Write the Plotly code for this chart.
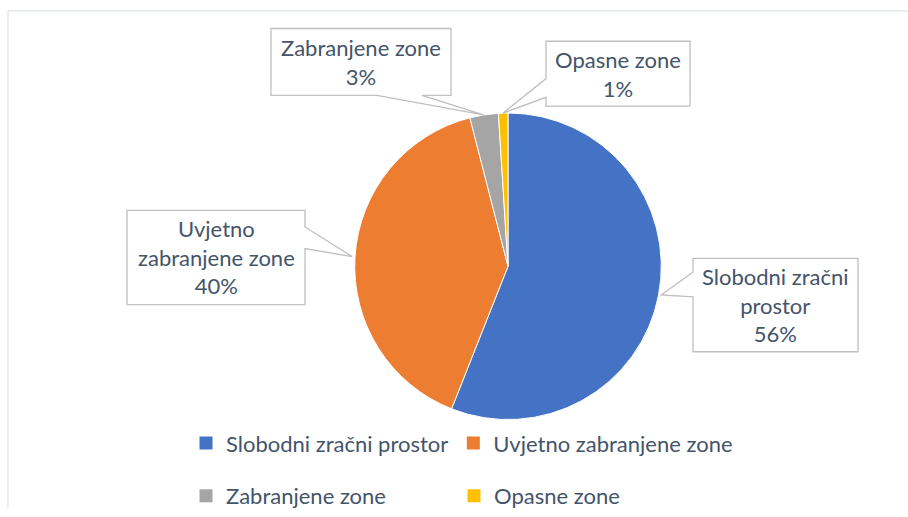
import math
import plotly.graph_objects as go

# data
labels = ["Slobodni zračni prostor", "Uvjetno zabranjene zone",
          "Zabranjene zone", "Opasne zone"]
callout_text = ["Slobodni zračni<br>prostor", "Uvjetno<br>zabranjene zone",
                "Zabranjene zone", "Opasne zone"]
values = [56, 40, 3, 1]
colors = ["#4472C4", "#ED7D31", "#A5A5A5", "#FFC000"]

W, H = 908, 517
TEXT = "#44546A"
FONT = "Lato"

# pie geometry (pixels)
CX, CY, R = 508, 271, 156


def px(x):
    return x / W


def py(y):
    return 1 - y / H


fig = go.Figure()
fig.add_trace(go.Pie(
    labels=labels, values=values, sort=False, direction="clockwise",
    rotation=0, marker=dict(colors=colors, line=dict(color="white", width=1)),
    textinfo="none", hoverinfo="label+percent", showlegend=False,
    domain=dict(x=[px(CX - R), px(CX + R)], y=[py(CY + R), py(CY - R)]),
))

# legend entries: two rows, two columns
for i, (lab, col) in enumerate(zip(labels, colors)):
    fig.add_trace(go.Scatter(
        x=[None], y=[None], mode="markers", name=lab,
        marker=dict(symbol="square", size=13, color=col),
        legend="legend" if i < 2 else "legend2",
    ))

# callout boxes: (x0, y0, x1, y1) and the two points where the pointer leaves the box
boxes = [
    ((693, 263, 858, 358), [(693, 277), (693, 302)]),
    ((127, 214, 305, 310), [(305, 231), (305, 253)]),
    ((271, 29, 451, 97), [(377, 97), (422, 97)]),
    ((546, 42, 690, 108), [(546, 80), (546, 99)]),
]

total = sum(values)
cum = 0
shapes = []
annotations = []
for i, v in enumerate(values):
    mid = (cum + v / 2) / total * 2 * math.pi
    cum += v
    tx = CX + R * math.sin(mid)
    ty = CY - R * math.cos(mid)
    (x0, y0, x1, y1), (a, b) = boxes[i]
    # outline going round the box, inserting the pointer on its edge
    corners = [(x0, y0), (x1, y0), (x1, y1), (x0, y1)]
    pts = []
    for k in range(4):
        p, q = corners[k], corners[(k + 1) % 4]
        pts.append(p)
        on_edge = [e for e in (a, b)
                   if min(p[0], q[0]) <= e[0] <= max(p[0], q[0])
                   and min(p[1], q[1]) <= e[1] <= max(p[1], q[1])]
        if len(on_edge) == 2:
            d = lambda e: abs(e[0] - p[0]) + abs(e[1] - p[1])
            e1, e2 = sorted(on_edge, key=d)
            pts += [e1, (tx, ty), e2]
    path = "M " + " L ".join(f"{px(x):.5f},{py(y):.5f}" for x, y in pts) + " Z"
    shapes.append(dict(type="path", xref="paper", yref="paper", path=path,
                       fillcolor="white", line=dict(color="#BFBFBF", width=1.3)))
    annotations.append(dict(
        x=px((x0 + x1) / 2), y=py((y0 + y1) / 2), xref="paper", yref="paper",
        text=f"{callout_text[i]}<br>{v}%", showarrow=False,
        font=dict(family=FONT, size=22, color=TEXT), align="center",
        xanchor="center", yanchor="middle",
    ))

# chart area border (top and left visible)
shapes += [
    dict(type="line", xref="paper", yref="paper", x0=px(8), x1=1, y0=py(11), y1=py(11),
         line=dict(color="#DDE3EA", width=1.2)),
    dict(type="line", xref="paper", yref="paper", x0=px(8), x1=px(8), y0=py(11), y1=0,
         line=dict(color="#DDE3EA", width=1.2)),
]

leg = dict(orientation="h", xanchor="left", yanchor="middle",
           font=dict(family=FONT, size=22, color=TEXT), bgcolor="rgba(0,0,0,0)")
fig.update_layout(
    width=W, height=H, margin=dict(l=0, r=0, t=0, b=0),
    paper_bgcolor="white", plot_bgcolor="white",
    xaxis=dict(visible=False), yaxis=dict(visible=False),
    shapes=shapes, annotations=annotations,
    legend=dict(leg, x=px(186), y=py(451)),
    legend2=dict(leg, x=px(186), y=py(505), entrywidth=223, entrywidthmode="pixels"),
)

# pin the chart to the window's top-left corner so nothing adds page height
fix_page = ("document.body.style.margin='0';"
            "document.body.style.overflow='hidden';"
            "document.documentElement.style.overflow='hidden';"
            "var d=document.getElementById('{plot_id}');"
            "d.style.position='fixed';d.style.left='0';d.style.top='0';")
fig.write_html("out.html", config={"displayModeBar": False}, post_script=fix_page)
